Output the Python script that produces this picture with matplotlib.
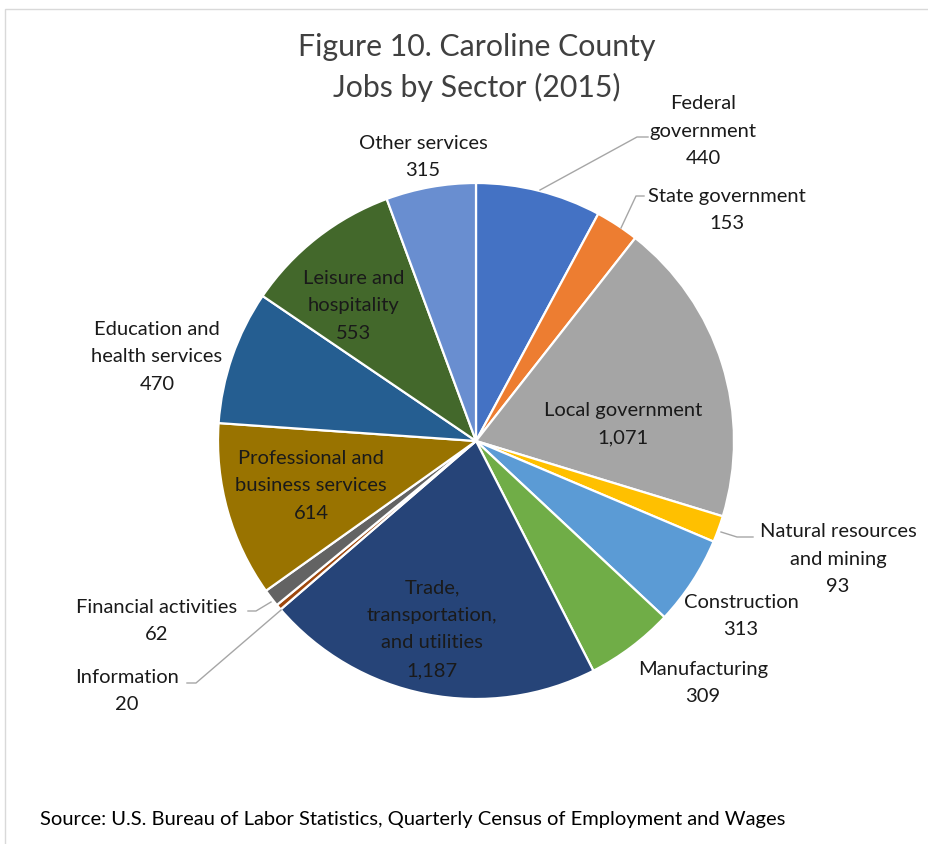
import matplotlib.pyplot as plt
from matplotlib.patches import Rectangle

plt.rcParams['font.family'] = ['Lato', 'DejaVu Sans']

sectors = ["Federal government", "State government", "Local government",
           "Natural resources and mining", "Construction", "Manufacturing",
           "Trade, transportation, and utilities", "Information",
           "Financial activities", "Professional and business services",
           "Education and health services", "Leisure and hospitality",
           "Other services"]
jobs = [440, 153, 1071, 93, 313, 309, 1187, 20, 62, 614, 470, 553, 315]
colors = ["#4472C4", "#ED7D31", "#A5A5A5", "#FFC000", "#5B9BD5", "#70AD47",
          "#264478", "#9E480E", "#636363", "#997300", "#255E91", "#43682B",
          "#698ED0"]

W, H = 929, 844

def py(y):
    return H - y

fig = plt.figure(figsize=(W / 100, H / 100), dpi=100)
ax = fig.add_axes([0, 0, 1, 1])

ax.pie(jobs, colors=colors, startangle=90, counterclock=False,
       center=(476, py(441)), radius=258,
       wedgeprops=dict(edgecolor='white', linewidth=1.6))
ax.set_xlim(0, W)
ax.set_ylim(0, H)
ax.set_aspect('equal')
ax.axis('off')

# frame
ax.add_patch(Rectangle((5, -5), W + 10, py(9) + 5, fill=False,
                       edgecolor='#d9d9d9', linewidth=1))

ax.text(477, py(47), "Figure 10. Caroline County", ha='center', va='center',
        fontsize=21.8, color='#404040')
ax.text(477, py(87), "Jobs by Sector (2015)", ha='center', va='center',
        fontsize=21.8, color='#404040')

lab = dict(ha='center', va='center', fontsize=14.5, color='#1a1a1a', linespacing=1.76)

# label positions (pixel coords of text centers)
label_text = {
    "Other services": ("Other services\n315", 423, 157),
    "Federal government": ("Federal\ngovernment\n440", 703, 131),
    "State government": ("State government\n153", 727, 210),
    "Local government": ("Local government\n1,071", 623, 424),
    "Natural resources and mining": ("Natural resources\nand mining\n93", 838, 559),
    "Construction": ("Construction\n313", 741, 616),
    "Manufacturing": ("Manufacturing\n309", 703, 683),
    "Trade, transportation, and utilities": ("Trade,\ntransportation,\nand utilities\n1,187", 432, 629),
    "Information": ("Information\n20", 127, 691),
    "Financial activities": ("Financial activities\n62", 157, 621),
    "Professional and business services": ("Professional and\nbusiness services\n614", 311, 486),
    "Education and health services": ("Education and\nhealth services\n470", 157, 357),
    "Leisure and hospitality": ("Leisure and\nhospitality\n553", 354, 306),
}
for s in sectors:
    t, x, y = label_text[s]
    ax.text(x, py(y), t, **lab)

# leader lines
leaders = [
    [(540, 190), (637, 137), (648, 137)],
    [(621, 228), (636, 196), (644, 196)],
    [(721, 532), (737, 537), (753, 537)],
    [(271, 602), (256, 611), (248, 611)],
    [(281, 610), (196, 683), (187, 683)],
]
for pts in leaders:
    xs = [p[0] for p in pts]
    ys = [py(p[1]) for p in pts]
    ax.plot(xs, ys, color='#a6a6a6', linewidth=1)

ax.text(40, py(820), "Source: U.S. Bureau of Labor Statistics, Quarterly Census of Employment and Wages",
        ha='left', va='center', fontsize=14.5, color='black')

fig.savefig("out.png", dpi=100)
